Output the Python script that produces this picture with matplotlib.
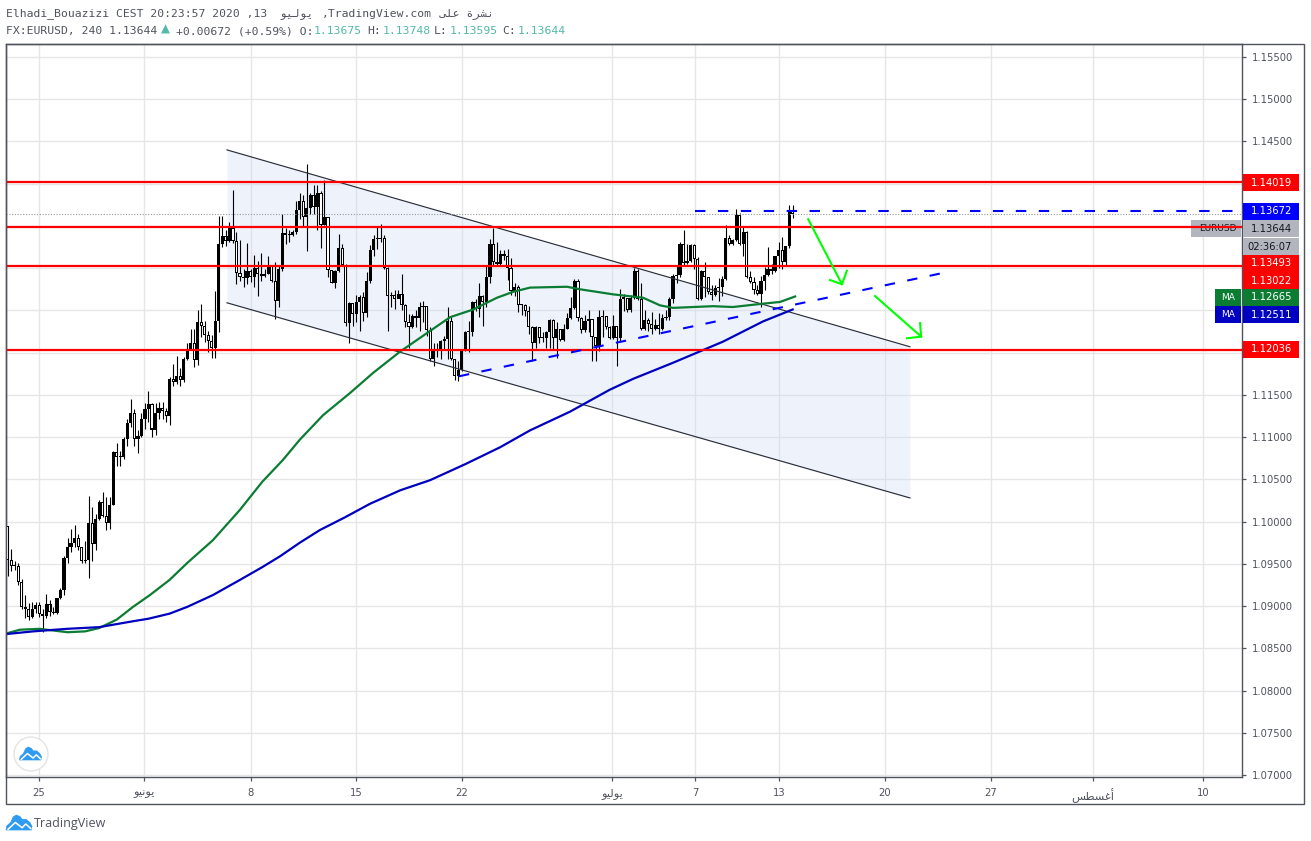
import matplotlib
matplotlib.use("Agg")
import matplotlib.pyplot as plt
from matplotlib.patches import Rectangle, Polygon, Ellipse

W, H = 1311, 841

first_open = 1.0995
closes = [1.0954,1.0947,1.0947,1.0928,1.0899,1.0897,1.0887,1.0897,1.0901,1.0890,
          1.0888,1.0903,1.0893,1.0892,1.0909,1.0919,1.0957,1.0970,1.0975,1.0981,
          1.0970,1.0953,1.0954,1.0998,1.0974,1.1003,1.1023,1.1007,1.0998,1.1020,
          1.1082,1.1076,1.1077,1.1098,1.1117,1.1129,1.1098,1.1101,1.1121,1.1133,
          1.1139,1.1109,1.1129,1.1135,1.1131,1.1125,1.1169,1.1165,1.1172,1.1168,
          1.1193,1.1204,1.1211,1.1191,1.1236,1.1232,1.1221,1.1214,1.1206,1.1237,
          1.1329,1.1338,1.1332,1.1347,1.1332,1.1294,1.1290,1.1288,1.1297,1.1289,
          1.1300,1.1293,1.1291,1.1293,1.1303,1.1285,1.1261,1.1299,1.1342,1.1339,
          1.1339,1.1343,1.1369,1.1379,1.1361,1.1371,1.1387,1.1372,1.1389,1.1351,
          1.1361,1.1298,1.1283,1.1297,1.1324,1.1304,1.1235,1.1259,1.1246,1.1260,
          1.1266,1.1247,1.1285,1.1321,1.1334,1.1334,1.1336,1.1300,1.1267,1.1268,
          1.1263,1.1270,1.1256,1.1236,1.1230,1.1243,1.1241,1.1254,1.1255,1.1227,
          1.1192,1.1203,1.1204,1.1214,1.1216,1.1238,1.1192,1.1172,1.1179,1.1203,
          1.1224,1.1224,1.1260,1.1252,1.1267,1.1260,1.1290,1.1329,1.1307,1.1305,
          1.1317,1.1314,1.1300,1.1273,1.1278,1.1256,1.1256,1.1249,1.1230,1.1211,
          1.1230,1.1217,1.1217,1.1224,1.1239,1.1217,1.1228,1.1215,1.1228,1.1241,
          1.1253,1.1285,1.1241,1.1227,1.1238,1.1240,1.1218,1.1208,1.1242,1.1243,
          1.1230,1.1217,1.1231,1.1217,1.1264,1.1265,1.1251,1.1265,1.1297,1.1263,
          1.1228,1.1239,1.1234,1.1228,1.1233,1.1228,1.1241,1.1242,1.1264,1.1291,
          1.1292,1.1329,1.1306,1.1308,1.1327,1.1311,1.1263,1.1297,1.1289,1.1272,
          1.1268,1.1276,1.1278,1.1287,1.1336,1.1329,1.1333,1.1363,1.1329,1.1343,
          1.1289,1.1284,1.1274,1.1270,1.1285,1.1292,1.1299,1.1297,1.1314,1.1322,
          1.1307,1.1326,1.13675,1.13644]
highs = [1.0995,1.0968,1.0953,1.0951,1.0932,1.0913,1.0904,1.0905,1.0905,1.0905,
         1.0896,1.0914,1.0907,1.0899,1.0910,1.0921,1.0959,1.0980,1.0991,1.0996,
         1.0985,1.0970,1.0977,1.1030,1.1017,1.1009,1.1026,1.1035,1.1029,1.1029,
         1.1083,1.1093,1.1083,1.1100,1.1122,1.1145,1.1133,1.1108,1.1128,1.1140,
         1.1154,1.1140,1.1140,1.1141,1.1141,1.1134,1.1171,1.1187,1.1196,1.1182,
         1.1195,1.1211,1.1228,1.1228,1.1251,1.1257,1.1237,1.1226,1.1221,1.1273,
         1.1362,1.1362,1.1345,1.1355,1.1393,1.1343,1.1333,1.1299,1.1330,1.1299,
         1.1316,1.1309,1.1318,1.1299,1.1314,1.1304,1.1307,1.1303,1.1364,1.1347,
         1.1345,1.1345,1.1380,1.1389,1.1387,1.1423,1.1389,1.1398,1.1398,1.1391,
         1.1404,1.1361,1.1298,1.1298,1.1341,1.1329,1.1305,1.1260,1.1250,1.1268,
         1.1268,1.1272,1.1295,1.1327,1.1339,1.1349,1.1352,1.1339,1.1301,1.1272,
         1.1274,1.1274,1.1293,1.1257,1.1246,1.1246,1.1250,1.1260,1.1261,1.1254,
         1.1230,1.1211,1.1212,1.1215,1.1220,1.1254,1.1242,1.1193,1.1190,1.1204,
         1.1226,1.1237,1.1261,1.1264,1.1282,1.1268,1.1304,1.1334,1.1348,1.1331,
         1.1322,1.1322,1.1323,1.1312,1.1282,1.1280,1.1258,1.1257,1.1255,1.1231,
         1.1231,1.1230,1.1225,1.1226,1.1240,1.1240,1.1236,1.1228,1.1234,1.1247,
         1.1266,1.1287,1.1287,1.1242,1.1244,1.1250,1.1240,1.1219,1.1251,1.1251,
         1.1238,1.1232,1.1244,1.1232,1.1275,1.1270,1.1256,1.1268,1.1300,1.1299,
         1.1282,1.1250,1.1241,1.1248,1.1240,1.1247,1.1246,1.1250,1.1266,1.1293,
         1.1302,1.1331,1.1345,1.1329,1.1329,1.1329,1.1313,1.1298,1.1307,1.1290,
         1.1280,1.1280,1.1288,1.1291,1.1351,1.1339,1.1335,1.1370,1.1365,1.1349,
         1.1344,1.1297,1.1289,1.1280,1.1291,1.1301,1.1325,1.1305,1.1315,1.1331,
         1.1337,1.1326,1.1375,1.13748]
lows = [1.0936,1.0941,1.0943,1.0925,1.0897,1.0886,1.0883,1.0886,1.0892,1.0887,
        1.0869,1.0886,1.0888,1.0890,1.0890,1.0908,1.0913,1.0951,1.0964,1.0970,
        1.0966,1.0951,1.0951,1.0933,1.0953,1.0966,1.1002,1.1005,1.0990,1.0991,
        1.1020,1.1066,1.1066,1.1074,1.1089,1.1112,1.1089,1.1081,1.1100,1.1110,
        1.1118,1.1100,1.1103,1.1122,1.1122,1.1118,1.1114,1.1161,1.1163,1.1160,
        1.1165,1.1191,1.1203,1.1183,1.1185,1.1219,1.1213,1.1201,1.1194,1.1194,
        1.1225,1.1325,1.1326,1.1331,1.1330,1.1281,1.1285,1.1278,1.1281,1.1284,
        1.1278,1.1267,1.1285,1.1290,1.1293,1.1284,1.1240,1.1254,1.1297,1.1329,
        1.1331,1.1338,1.1341,1.1358,1.1349,1.1320,1.1364,1.1364,1.1345,1.1324,
        1.1351,1.1289,1.1282,1.1276,1.1295,1.1304,1.1232,1.1211,1.1232,1.1236,
        1.1226,1.1238,1.1242,1.1282,1.1315,1.1323,1.1331,1.1299,1.1226,1.1254,
        1.1252,1.1266,1.1250,1.1230,1.1205,1.1229,1.1230,1.1226,1.1236,1.1220,
        1.1190,1.1184,1.1195,1.1193,1.1203,1.1193,1.1191,1.1168,1.1167,1.1178,
        1.1202,1.1201,1.1220,1.1249,1.1242,1.1231,1.1254,1.1282,1.1303,1.1303,
        1.1304,1.1310,1.1286,1.1268,1.1267,1.1248,1.1244,1.1243,1.1222,1.1190,
        1.1205,1.1211,1.1213,1.1205,1.1205,1.1203,1.1194,1.1214,1.1214,1.1228,
        1.1240,1.1252,1.1238,1.1223,1.1225,1.1225,1.1190,1.1190,1.1202,1.1219,
        1.1228,1.1216,1.1216,1.1184,1.1213,1.1249,1.1248,1.1248,1.1263,1.1262,
        1.1227,1.1227,1.1226,1.1222,1.1227,1.1222,1.1227,1.1239,1.1239,1.1259,
        1.1282,1.1289,1.1304,1.1305,1.1307,1.1299,1.1262,1.1262,1.1266,1.1269,
        1.1262,1.1267,1.1261,1.1267,1.1286,1.1327,1.1327,1.1332,1.1328,1.1315,
        1.1288,1.1282,1.1269,1.1268,1.1254,1.1274,1.1291,1.1293,1.1296,1.1300,
        1.1299,1.1303,1.1324,1.13595]

green_bars = [0,3.5,9,17,22,26,31,35.6,40.4,46,51,58.3,66,72.3,78.2,83,89.6,97.2,103.8,111.4,119.4,125.7,132.2,139,
              143.6,148.4,158.9,162.6,172,180.5,185.3,189,200.4,206,214.6,219.4,223.7]
green_ma = [1.0868,1.0872,1.0873,1.0869,1.0870,1.0874,1.0884,1.0899,1.0913,1.0931,1.0951,1.0978,1.1014,1.1047,1.1073,
            1.1097,1.1126,1.1152,1.1176,1.1201,1.1224,1.1242,1.1251,1.1265,1.1272,1.1277,1.1278,1.1275,1.1269,1.1265,
            1.1256,1.1253,1.1255,1.1254,1.1258,1.1260,1.12665]
blue_bars = [0,7.2,16.8,26,35.6,40,46,51,58.3,66,72.3,77.4,83,88.7,95.8,102.9,111.5,120,130,139.9,148.4,159.7,171,
             177.7,189,203.2,214.6,223]
blue_ma = [1.0867,1.0870,1.0873,1.0875,1.0882,1.0885,1.0891,1.0899,1.0913,1.0931,1.0946,1.0959,1.0975,1.0990,1.1005,
           1.1021,1.1037,1.1049,1.1068,1.1088,1.1108,1.1130,1.1156,1.1169,1.1188,1.1213,1.1237,1.12511]

red_levels = [1.14019, 1.13493, 1.13022, 1.12036]
blue_level = 1.13672
last_price = 1.13644

channel_bars = [62.3, 256.3]
channel_top = [1.1440, 1.1207]
channel_bottom = [1.1259, 1.1028]
trend_bars = [128.2, 265.3]
trend_prices = [1.1172, 1.1294]
level_start_bar = 195.3

arrow1_bars = [227.4, 237.0]
arrow1_prices = [1.1358, 1.1281]
arrow1_head_bars = [233.6, 237.0, 238.4]
arrow1_head_prices = [1.1286, 1.1281, 1.1297]
arrow2_bars = [246.4, 259.5]
arrow2_prices = [1.1267, 1.1219]
arrow2_head_bars = [255.5, 259.5, 259.2]
arrow2_head_prices = [1.1217, 1.1219, 1.1235]

price_ticks = [1.07,1.075,1.08,1.085,1.09,1.095,1.10,1.105,1.11,1.115,1.12,1.125,1.13,1.135,1.14,1.145,1.15,1.155]
# these sit under the coloured price tags, so the reference shows no text for them
hidden_ticks = [1.12, 1.125, 1.13, 1.135, 1.14]
date_ticks = [8.9,38.7,69.1,99.0,129.0,171.7,195.3,219.1,249.2,279.3,308.3,339.6]
date_labels = ["25","يونيو","8","15","22","يوليو","7","13","20","27","أغسطس","10"]

# matplotlib does no arabic shaping, so these are the joined forms in drawing order
SHAPED = {"يونيو": "\ufeee\ufef4\ufee7\ufeee\ufef3",
          "يوليو": "\ufeee\ufef4\ufedf\ufeee\ufef3",
          "أغسطس": "\ufeb2\ufec4\ufeb4\ufecf\ufe83",
          "نشرة": "\ufe93\ufeae\ufeb8\ufee7",
          "على": "\ufef0\ufee0\ufecb"}

GRID = "#e6e6e6"
FRAME = "#50535e"
TEXT = "#50535e"
TEAL = "#53b9a8"
MONO = ["DejaVu Sans Mono", "DejaVu Sans"]
HEAD = 8.2

fig = plt.figure(figsize=(W / 100, H / 100), dpi=100, facecolor="white")
ax = fig.add_axes([6 / W, 1 - 777 / H, (1242 - 6) / W, (777 - 44) / H])
ax.set_xlim(-0.48, 350.65)
ax.set_ylim(1.06976, 1.15654)


def fx(px):
    return px / W


def fy(py):
    return 1 - py / H


def box(x0, y0, x1, y1, color, z=5):
    fig.add_artist(Rectangle((fx(x0), fy(y1)), (x1 - x0) / W, (y1 - y0) / H,
                             transform=fig.transFigure, facecolor=color, edgecolor="none", zorder=z))


def label(x, y, s, color=TEXT, size=7.2, ha="left", family="DejaVu Sans", z=6):
    fig.text(fx(x), fy(y), s, color=color, fontsize=size, ha=ha, va="center", family=family, zorder=z)


ax.set_yticks(price_ticks)
ax.set_yticklabels(["" if p in hidden_ticks else "%.5f" % p for p in price_ticks], fontsize=7.2, color=TEXT)
ax.yaxis.tick_right()
ax.set_xticks(date_ticks)
ax.set_xticklabels([SHAPED.get(s, s) for s in date_labels], fontsize=7.2, color=TEXT)
for t, s in zip(ax.get_xticklabels(), date_labels):
    if s in SHAPED:
        t.set_fontsize(8.2)
ax.tick_params(axis="both", length=3, width=0.9, color=FRAME)
ax.tick_params(axis="y", pad=4)
ax.tick_params(axis="x", pad=5)
ax.grid(True, color=GRID, linewidth=1.0, zorder=0)
ax.set_axisbelow(True)
for s in ax.spines.values():
    s.set_color(FRAME)
    s.set_linewidth(1.0)

# channel
ax.fill_between(channel_bars, channel_bottom, channel_top, color="#c9d9f4", alpha=0.3, linewidth=0, zorder=1)

# candles, black bodies are the up bars on this chart
opens = [first_open] + closes[:-1]
bars = list(range(len(closes)))
ax.vlines(bars, lows, highs, color="black", linewidth=0.8, zorder=2)
for b, o, c in zip(bars, opens, closes):
    top = max(o, c)
    bottom = min(o, c)
    ax.add_patch(Rectangle((b - 0.45, bottom), 0.9, max(top - bottom, 0.00014),
                           facecolor="black", edgecolor="none", zorder=3))
    if c < o and top - bottom > 0.00024:
        ax.add_patch(Rectangle((b - 0.16, bottom + 0.00012), 0.32, top - bottom - 0.00024,
                               facecolor="white", edgecolor="none", zorder=3.1))

ax.plot(channel_bars, channel_top, color="#2a2e39", linewidth=0.85, zorder=4)
ax.plot(channel_bars, channel_bottom, color="#2a2e39", linewidth=0.85, zorder=4)

ax.axhline(last_price, color="#9598a1", linewidth=0.8, linestyle=(0, (1, 1.5)), zorder=4)
ax.plot(green_bars, green_ma, color="#0b7d33", linewidth=1.6, zorder=5)
ax.plot(blue_bars, blue_ma, color="#0000c0", linewidth=1.6, zorder=5)

# the EURUSD tag sits under the red line, so it lives inside the axes
ax.add_patch(Rectangle((fx(1191), fy(237)), 50 / W, 17 / H, transform=fig.transFigure,
                       facecolor="#b2b5be", edgecolor="none", zorder=5.5))
ax.text(fx(1218), fy(228.5), "EURUSD", transform=fig.transFigure, color="#131722", fontsize=6.5,
        ha="center", va="center", zorder=5.6)

for lv in red_levels:
    ax.axhline(lv, color="#ff0000", linewidth=1.6, zorder=6)
ax.plot([level_start_bar, 350.65], [blue_level, blue_level], color="#0000ff", linewidth=1.5,
        linestyle=(0, (5, 6)), zorder=6)
ax.plot(trend_bars, trend_prices, color="#0000ff", linewidth=1.5, linestyle=(0, (5, 6)), zorder=6)

for xs, ys, hx, hy in [(arrow1_bars, arrow1_prices, arrow1_head_bars, arrow1_head_prices),
                       (arrow2_bars, arrow2_prices, arrow2_head_bars, arrow2_head_prices)]:
    ax.plot(xs, ys, color="#00ff00", linewidth=1.5, zorder=7)
    ax.plot(hx, hy, color="#00ff00", linewidth=1.5, zorder=7)

# outer frame
fig.add_artist(Rectangle((fx(6), fy(804)), 1298 / W, 760 / H, transform=fig.transFigure,
                         facecolor="none", edgecolor=FRAME, linewidth=1.0, zorder=2))

# price labels on the axis
tags = [(174, 191, "%.5f" % red_levels[0], "#ff0000", "white"),
        (203, 220, "%.5f" % blue_level, "#0000ff", "white"),
        (220, 237, "%.5f" % last_price, "#b2b5be", "#131722"),
        (238, 255, "02:36:07", "#b2b5be", "#131722"),
        (255, 272, "%.5f" % red_levels[1], "#ff0000", "white"),
        (272, 289, "%.5f" % red_levels[2], "#ff0000", "white"),
        (289, 306, "%.5f" % green_ma[-1], "#0b7d33", "white"),
        (306, 323, "%.5f" % blue_ma[-1], "#0000c0", "white"),
        (341, 358, "%.5f" % red_levels[3], "#ff0000", "white")]
for y0, y1, s, bg, fg in tags:
    box(1243, y0, 1299, y1, bg)
    label(1251 if ":" not in s else 1247, (y0 + y1) / 2, s, color=fg)
box(1215, 289, 1241, 306, "#0b7d33")
label(1228, 297.5, "MA", color="white", ha="center", size=6.5)
box(1215, 306, 1241, 323, "#0000c0")
label(1228, 314.5, "MA", color="white", ha="center", size=6.5)

# header
label(6, 14, "Elhadi_Bouazizi CEST 20:23:57 2020 ,13", family=MONO, size=HEAD)
label(280, 14, SHAPED["يوليو"], family=MONO, size=HEAD)
label(322, 14, ",TradingView.com", family=MONO, size=HEAD)
label(440, 14, SHAPED["على"] + " " + SHAPED["نشرة"], family=MONO, size=HEAD)
label(6, 31, "FX:EURUSD, 240 1.13644", family=MONO, size=HEAD)
label(161, 29.5, "\u25b2", color=TEAL, size=8.5)
label(176, 31, "+0.00672 (+0.59%) O:", family=MONO, size=HEAD)
label(314, 31, "1.13675", color=TEAL, family=MONO, size=HEAD)
label(367, 31, "H:", family=MONO, size=HEAD)
label(383, 31, "1.13748", color=TEAL, family=MONO, size=HEAD)
label(434, 31, "L:", family=MONO, size=HEAD)
label(450, 31, "1.13595", color=TEAL, family=MONO, size=HEAD)
label(502, 31, "C:", family=MONO, size=HEAD)
label(518, 31, "1.13644", color=TEAL, family=MONO, size=HEAD)

# tradingview logos
cloud = [(0, 1), (0.03, 0.72), (0.18, 0.5), (0.28, 0.12), (0.4, 0.0), (0.55, 0.12), (0.62, 0.3), (0.78, 0.3),
         (0.92, 0.5), (1, 0.75), (0.97, 1)]
zig = [(0.08, 0.95), (0.36, 0.5), (0.62, 0.85), (0.76, 0.6), (0.95, 0.9)]


def logo(x0, y0, w, h, z=6):
    fig.add_artist(Polygon([(fx(x0 + a * w), fy(y0 + b * h)) for a, b in cloud], closed=True,
                           transform=fig.transFigure, facecolor="#2e9bf0", edgecolor="#2e9bf0",
                           linewidth=0.5, zorder=z))
    line = plt.Line2D([fx(x0 + a * w) for a, b in zig], [fy(y0 + b * h) for a, b in zig],
                      transform=fig.transFigure, color="white", linewidth=1.1, zorder=z + 1)
    fig.add_artist(line)


fig.add_artist(Ellipse((fx(31), fy(754)), 34 / W, 34 / H, transform=fig.transFigure, facecolor="white",
                       edgecolor="#e4e4e6", linewidth=1.0, zorder=5))
logo(19.5, 747, 22, 13)
logo(6, 815, 26, 15)
fig.text(fx(34), fy(823), "TradingView", fontsize=9.0, color="#50535e", family="Open Sans", va="center")

fig.savefig("out.png", dpi=100, facecolor="white")
